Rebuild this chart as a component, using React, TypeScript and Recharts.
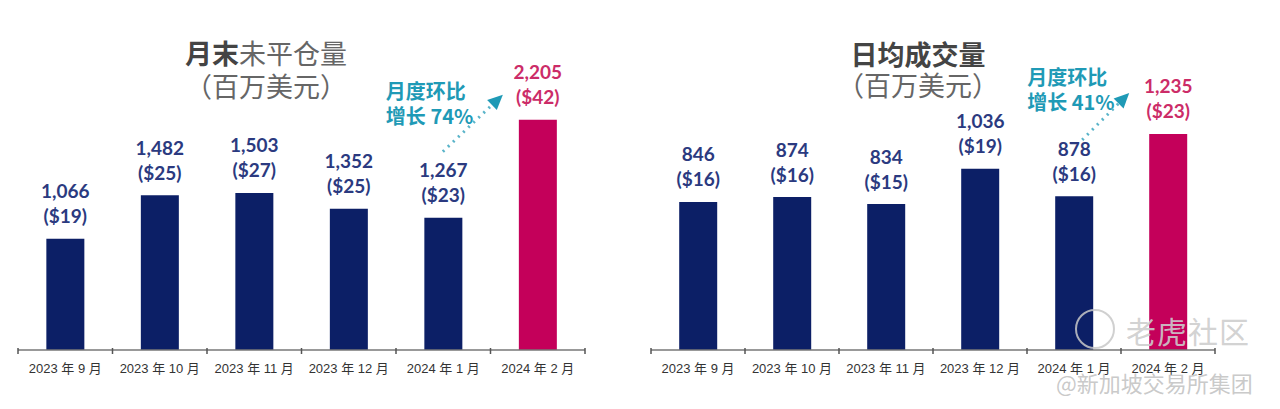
import React from "react";
import { BarChart, Bar, XAxis, YAxis, LabelList, Cell } from "recharts";

const months = ["2023 年 9 月", "2023 年 10 月", "2023 年 11 月", "2023 年 12 月", "2024 年 1 月", "2024 年 2 月"];
const openInterest = [1066, 1482, 1503, 1352, 1267, 2205];
const openInterestUsd = [19, 25, 27, 25, 23, 42];
const dailyVolume = [846, 874, 834, 1036, 878, 1235];
const dailyVolumeUsd = [16, 16, 15, 19, 16, 23];

const NAVY = "#0c1f66";
const NAVY_TEXT = "#2b3a80";
const PINK = "#c4005a";
const PINK_TEXT = "#cc2c68";
const TEAL = "#1f9ab6";
const CJK = "'Noto Sans CJK SC', 'Noto Sans', sans-serif";
const NUM = "Lato, 'Noto Sans', sans-serif";

type Annot = {
  text: [string, string];
  textDx: number;
  textDy: number;
  tail: [number, number];
  head: [number, number];
};

type PanelProps = {
  left: number;
  width: number;
  marginLeft: number;
  marginRight: number;
  domainMax: number;
  values: number[];
  usd: number[];
  annot: Annot;
};

const fmt = (v: number) => v.toLocaleString("en-US");

function Arrow({ x1, y1, x2, y2 }: { x1: number; y1: number; x2: number; y2: number }) {
  const dx = x2 - x1;
  const dy = y2 - y1;
  const len = Math.sqrt(dx * dx + dy * dy);
  const ux = dx / len;
  const uy = dy / len;
  const bx = x2 - ux * 15;
  const by = y2 - uy * 15;
  const px = -uy * 7;
  const py = ux * 7;
  return (
    <g>
      <line x1={x1} y1={y1} x2={bx} y2={by} stroke="#5ab4c9" strokeWidth={3} strokeDasharray="2 5" />
      <polygon points={`${x2},${y2} ${bx + px},${by + py} ${bx - px},${by - py}`} fill={TEAL} />
    </g>
  );
}

function Panel({ left, width, marginLeft, marginRight, domainMax, values, usd, annot }: PanelProps) {
  const data = months.map((m, i) => ({ month: m, value: values[i], usd: usd[i] }));
  const band = (width - marginLeft - marginRight) / months.length;
  const last = months.length - 1;

  const renderTick = (props: any) => {
    const { x, y, payload, index } = props;
    const lx = x - band / 2;
    return (
      <g>
        <line x1={lx} y1={y - 2} x2={lx} y2={y + 4} stroke="#555" strokeWidth={1.5} />
        {index === last && <line x1={x + band / 2} y1={y - 2} x2={x + band / 2} y2={y + 4} stroke="#555" strokeWidth={1.5} />}
        <text x={x} y={y + 23} textAnchor="middle" fontSize={13} fill="#333" fontFamily={`'Liberation Sans', ${CJK}`}>
          {payload.value}
        </text>
      </g>
    );
  };

  const renderLabel = (props: any) => {
    const { x, y, width: w, index } = props;
    const cx = x + w / 2;
    const color = index === last ? PINK_TEXT : NAVY_TEXT;
    const d = data[index];
    return (
      <g>
        <text x={cx} y={y - 48} textAnchor="middle" dominantBaseline="central" fontSize={19} fontWeight={700} fill={color} fontFamily={NUM}>
          {fmt(d.value)}
        </text>
        <text x={cx} y={y - 23} textAnchor="middle" dominantBaseline="central" fontSize={19} fontWeight={700} fill={color} fontFamily={NUM}>
          {`($${d.usd})`}
        </text>
        {index === last && (
          <g>
            <text x={x + annot.textDx} y={y + annot.textDy} dominantBaseline="central" fontSize={20} fontWeight={700} fill={TEAL} fontFamily={CJK}>
              {annot.text[0]}
            </text>
            <text x={x + annot.textDx} y={y + annot.textDy + 25} dominantBaseline="central" fontSize={20} fontWeight={700} fill={TEAL} fontFamily={CJK}>
              {annot.text[1]}
            </text>
            <Arrow x1={x + annot.tail[0]} y1={y + annot.tail[1]} x2={x + annot.head[0]} y2={y + annot.head[1]} />
          </g>
        )}
      </g>
    );
  };

  return (
    <div style={{ position: "absolute", left, top: 0 }}>
      <BarChart
        width={width}
        height={409}
        data={data}
        margin={{ top: 0, left: marginLeft, right: marginRight, bottom: 29 }}
        barCategoryGap="30%"
      >
        <YAxis hide domain={[0, domainMax]} />
        <XAxis
          dataKey="month"
          height={30}
          axisLine={{ stroke: "#777", strokeWidth: 1.5 }}
          tickLine={false}
          tickSize={0}
          tickMargin={0}
          interval={0}
          tick={renderTick}
        />
        <Bar dataKey="value" isAnimationActive={false}>
          {data.map((d, i) => (
            <Cell key={d.month} fill={i === last ? PINK : NAVY} />
          ))}
          <LabelList dataKey="value" content={renderLabel} />
        </Bar>
      </BarChart>
    </div>
  );
}

export default function App() {
  return (
    <div style={{ position: "absolute", left: 0, top: 0, width: 1280, height: 409, background: "#fff", overflow: "hidden" }}>
      <Panel
        left={0}
        width={600}
        marginLeft={18}
        marginRight={15}
        domainMax={3350}
        values={openInterest}
        usd={openInterestUsd}
        annot={{ text: ["月度环比", "增长 74%"], textDx: -133, textDy: -29, tail: [-76, 32], head: [-16, -25] }}
      />
      <Panel
        left={632}
        width={648}
        marginLeft={19}
        marginRight={65}
        domainMax={2000}
        values={dailyVolume}
        usd={dailyVolumeUsd}
        annot={{ text: ["月度环比", "增长 41%"], textDx: -122, textDy: -57, tail: [-67, 6], head: [-20, -41] }}
      />
      <div style={{ position: "absolute", left: 166, top: 36, width: 200, textAlign: "center", fontFamily: CJK, fontSize: 27, lineHeight: "33px", color: "#666" }}>
        <div>
          <span style={{ fontWeight: 700, color: "#444" }}>月末</span>未平仓量
        </div>
        <div>（百万美元）</div>
      </div>
      <div style={{ position: "absolute", left: 818, top: 38, width: 200, textAlign: "center", fontFamily: CJK, fontSize: 27, lineHeight: "31px", color: "#666" }}>
        <div style={{ fontWeight: 700, color: "#444" }}>日均成交量</div>
        <div>（百万美元）</div>
      </div>
      <div style={{ position: "absolute", left: 1075, top: 309, width: 36, height: 36, borderRadius: "50%", border: "2px solid rgba(200,200,200,0.85)" }} />
      <div style={{ position: "absolute", left: 1126, top: 312, fontFamily: CJK, fontSize: 30, lineHeight: "36px", color: "rgba(205,205,205,0.9)", letterSpacing: 1 }}>老虎社区</div>
      <div style={{ position: "absolute", left: 1056, top: 368, fontFamily: CJK, fontSize: 22, lineHeight: "28px", color: "rgba(195,195,195,0.9)" }}>@新加坡交易所集团</div>
    </div>
  );
}
